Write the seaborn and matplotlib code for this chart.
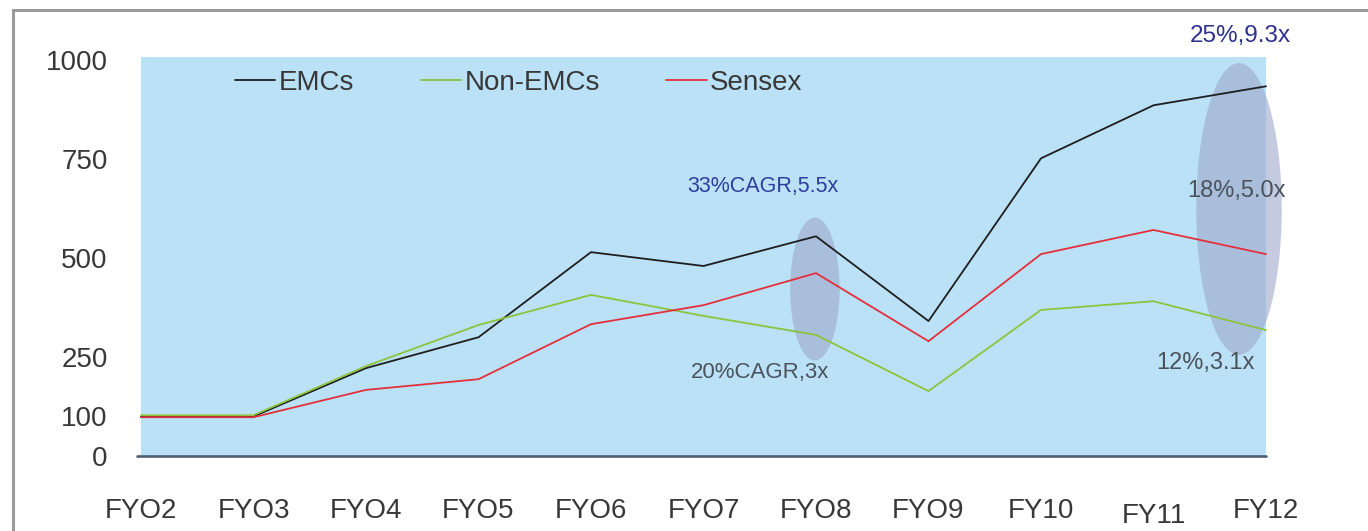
import matplotlib
matplotlib.use("Agg")
import matplotlib.pyplot as plt
import matplotlib.transforms as mtrans
from matplotlib.patches import Ellipse, Rectangle
import seaborn as sns
import pandas as pd

years = ["FYO2", "FYO3", "FYO4", "FYO5", "FYO6", "FYO7", "FYO8", "FYO9", "FY10", "FY11", "FY12"]
emcs = [100, 100, 222, 300, 515, 480, 555, 341, 752, 886, 934]
non_emcs = [103, 103, 227, 331, 407, 354, 306, 164, 369, 391, 318]
sensex = [98, 98, 167, 194, 333, 381, 462, 290, 510, 571, 510]
series_names = ["EMCs", "Non-EMCs", "Sensex"]
y_ticks = [0, 100, 250, 500, 750, 1000]

rows = []
for name, vals in zip(series_names, [emcs, non_emcs, sensex]):
    for i, v in enumerate(vals):
        rows.append({"idx": i, "year": years[i], "series": name, "value": v})
df = pd.DataFrame(rows)

sns.set_style("white")
plt.rcParams["font.family"] = ["Liberation Sans", "DejaVu Sans"]

W, H = 1368, 531
fig = plt.figure(figsize=(W / 100, H / 100), dpi=100)
ax = fig.add_axes([141 / W, 1 - 456 / H, (1266 - 141) / W, (456 - 57) / H])
ax.set_facecolor("#bae1f6")

palette = {"EMCs": "#1e1e1e", "Non-EMCs": "#8cc43e", "Sensex": "#e4303c"}
sns.lineplot(data=df, x="idx", y="value", hue="series", palette=palette,
             linewidth=1.3, ax=ax, legend=True, zorder=4)
for ln in ax.lines:
    ln.set_clip_on(False)

ax.set_xlim(0, 10)
ax.set_ylim(0, 1008)
ax.set_xlabel("")
ax.set_ylabel("")
for s in ["left", "right", "top", "bottom"]:
    ax.spines[s].set_visible(False)
ax.axhline(0, xmin=-0.004, xmax=1.0, color="#4d5f6e", lw=1.9, clip_on=False, zorder=5)

ax.set_yticks(y_ticks)
ax.set_yticklabels([str(t) for t in y_ticks], fontsize=20, color="#383838")
ax.set_xticks(range(len(years)))
ax.set_xticklabels(years, fontsize=20, color="#383838")
ax.tick_params(axis="y", length=0, pad=24)
ax.tick_params(axis="x", length=0, pad=30)
for lab in ax.get_xticklabels():
    if lab.get_text() == "FY11":
        lab.set_transform(lab.get_transform() + mtrans.ScaledTranslation(0, -5 / 100, fig.dpi_scale_trans))

# legend
handles, labels = ax.get_legend_handles_labels()
leg = ax.legend(handles, labels, loc="center left", bbox_to_anchor=(235 / W, 1 - 83 / H),
                bbox_transform=fig.transFigure, ncol=3, frameon=False, fontsize=20,
                handlelength=1.45, handletextpad=0.12, columnspacing=2.4,
                borderpad=0, borderaxespad=0)
for t in leg.get_texts():
    t.set_color("#383838")

# ellipses
e_fill = (158 / 255, 168 / 255, 202 / 255, 0.6)
ax.add_patch(Ellipse((5.99, 422), 0.44, 361, facecolor=e_fill, edgecolor="none",
                     clip_on=False, zorder=3))
ax.add_patch(Ellipse((9.76, 624), 0.76, 737, facecolor=e_fill, edgecolor="none",
                     clip_on=False, zorder=3))

# annotations
ax.text(9.77, 1061, "25%,9.3x", fontsize=17.5, color="#2e3192", ha="center", va="center", clip_on=False)
ax.text(5.53, 682, "33%CAGR,5.5x", fontsize=15.5, color="#2f3d9e", ha="center", va="center")
ax.text(9.74, 669, "18%,5.0x", fontsize=17, color="#4a525b", ha="center", va="center", zorder=6)
ax.text(5.50, 210, "20%CAGR,3x", fontsize=16, color="#4a525b", ha="center", va="center")
ax.text(9.46, 235, "12%,3.1x", fontsize=17, color="#4a525b", ha="center", va="center", zorder=6)

# outer frame (only left and top edges are visible in the picture)
fig.patches.append(Rectangle((13 / W, -0.05), 1.2, 1.05 - 10 / H,
                             transform=fig.transFigure, fill=False,
                             edgecolor="#9a9a9a", lw=2.2))

fig.savefig("out.png", dpi=100)
